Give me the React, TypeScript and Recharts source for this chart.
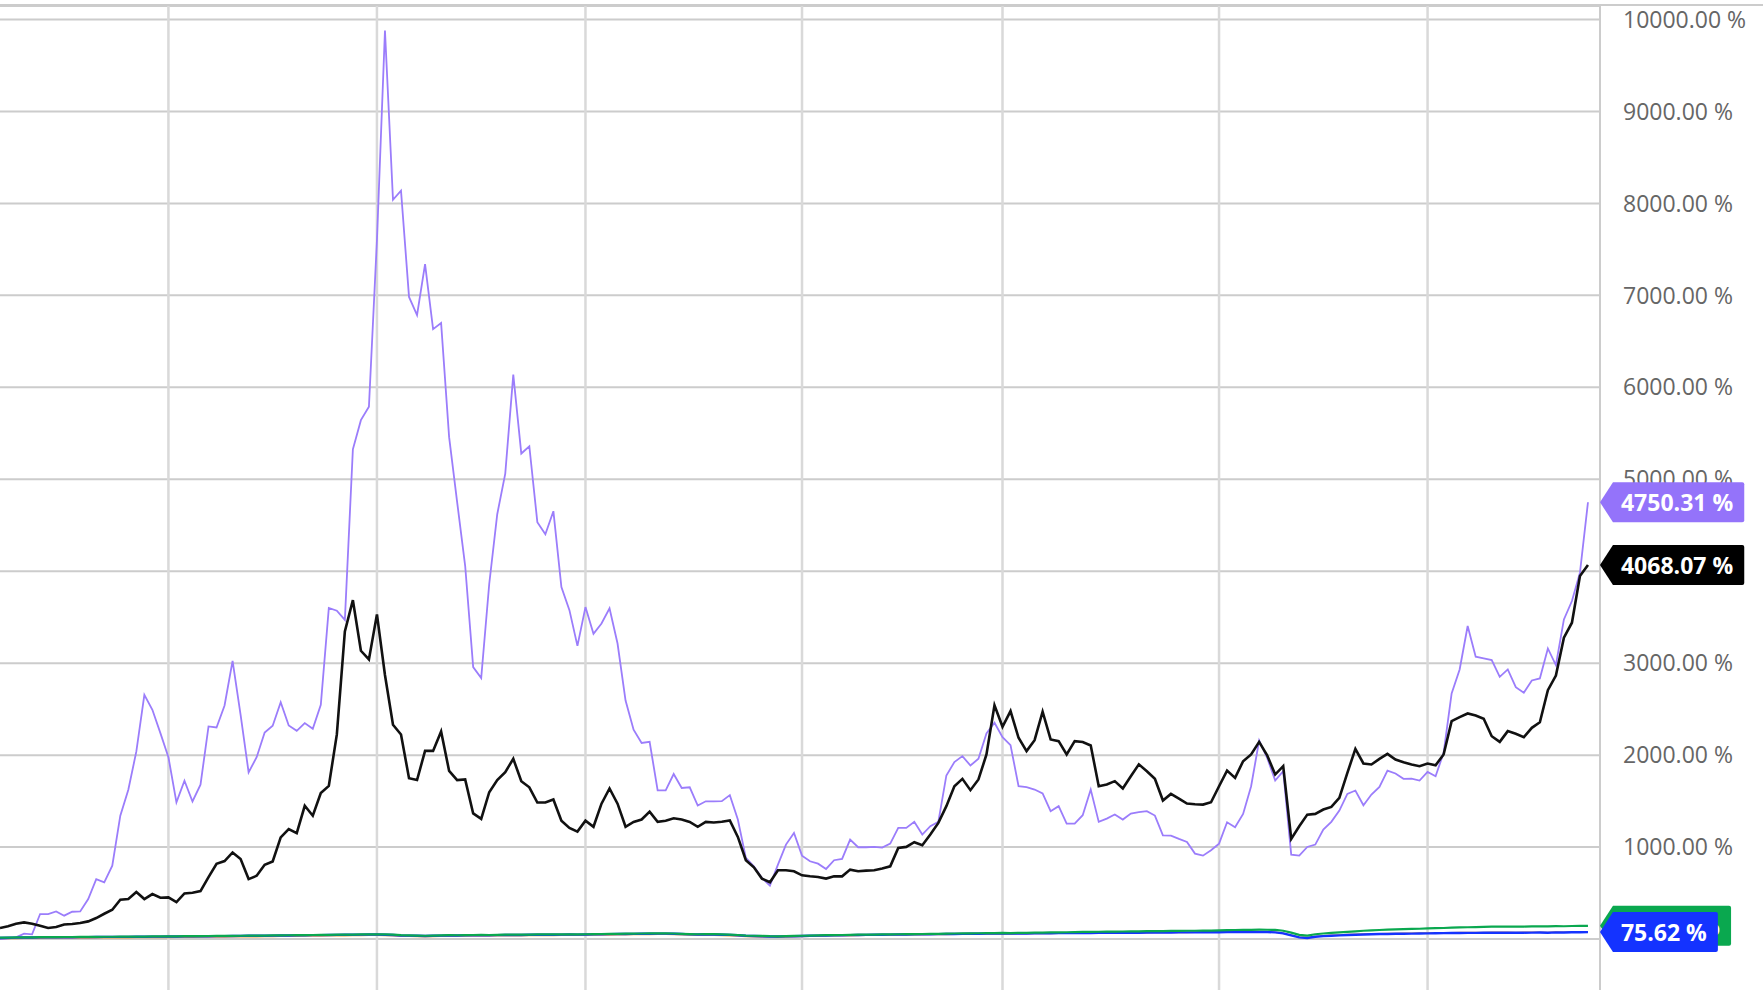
import { LineChart, Line, XAxis, YAxis, CartesianGrid, ReferenceLine } from 'recharts';

// bi-weekly cumulative return, %
const purple = [
  0, 5, 18, 58, 51, 272, 272, 300, 254, 297,
  300, 435, 652, 616, 797, 1341, 1623, 2040, 2656, 2493,
  2239, 1978, 1486, 1721, 1496, 1678, 2312, 2301, 2540, 3025,
  2438, 1812, 1978, 2246, 2319, 2576, 2322, 2264, 2348, 2286,
  2547, 3600, 3570, 3470, 5326, 5643, 5788, 7600, 9880, 8039,
  8138, 6983, 6785, 7339, 6633, 6699, 5458, 4752, 4059, 2957,
  2838, 3861, 4620, 5062, 6138, 5280, 5359, 4534, 4402, 4653,
  3828, 3577, 3188, 3610, 3320, 3432, 3597, 3214, 2594, 2277,
  2132, 2145, 1617, 1617, 1795, 1643, 1650, 1452, 1498, 1498,
  1500, 1565, 1299, 882, 791, 664, 581, 809, 1027, 1154,
  907, 846, 820, 762, 857, 871, 1082, 998, 998, 1002,
  995, 1038, 1209, 1209, 1274, 1136, 1227, 1274, 1779, 1924,
  1989, 1887, 1960, 2236, 2352, 2196, 2109, 1662, 1652, 1626,
  1583, 1390, 1445, 1256, 1256, 1347, 1626, 1274, 1310, 1354,
  1299, 1365, 1380, 1390, 1343, 1128, 1125, 1089, 1056, 929,
  907, 965, 1038, 1270, 1216, 1361, 1662, 2159, 1970, 1724,
  1825, 918, 907, 1001, 1027, 1190, 1274, 1397, 1578, 1615,
  1455, 1571, 1655, 1832, 1800, 1742, 1745, 1724, 1818, 1771,
  2025, 2671, 2932, 3404, 3070, 3052, 3033, 2852, 2932, 2739,
  2678, 2812, 2834, 3160, 2979, 3476, 3676, 3984, 4750.31,
];

const black = [
  120, 138, 167, 181, 167, 145, 120, 130, 159, 163,
  174, 192, 228, 275, 319, 428, 435, 511, 435, 489,
  449, 453, 402, 496, 504, 522, 674, 819, 848, 942,
  870, 652, 688, 808, 844, 1105, 1196, 1152, 1449, 1341,
  1587, 1665, 2225, 3345, 3685, 3135, 3040, 3531, 2871, 2330,
  2224, 1749, 1729, 2046, 2046, 2257, 1828, 1729, 1736, 1366,
  1307, 1597, 1729, 1815, 1960, 1716, 1650, 1485, 1485, 1518,
  1287, 1208, 1168, 1287, 1221, 1472, 1637, 1472, 1221, 1274,
  1300, 1386, 1274, 1287, 1313, 1300, 1274, 1221, 1274, 1267,
  1275, 1289, 1111, 857, 780, 657, 617, 748, 748, 737,
  693, 682, 675, 657, 682, 682, 755, 737, 744, 748,
  766, 791, 991, 1002, 1053, 1020, 1136, 1263, 1445, 1662,
  1742, 1619, 1735, 2007, 2541, 2309, 2479, 2189, 2044, 2163,
  2472, 2171, 2152, 2007, 2152, 2142, 2105, 1662, 1681, 1717,
  1637, 1771, 1900, 1825, 1742, 1506, 1578, 1528, 1473, 1466,
  1462, 1488, 1662, 1832, 1753, 1934, 2007, 2144, 1999, 1789,
  1880, 1089, 1226, 1353, 1361, 1408, 1437, 1535, 1807, 2068,
  1909, 1898, 1959, 2014, 1952, 1923, 1898, 1880, 1909, 1890,
  2007, 2369, 2413, 2453, 2431, 2395, 2206, 2144, 2261, 2232,
  2195, 2297, 2358, 2707, 2866, 3277, 3440, 3948, 4068.07,
];

const green = [
  15, 16, 18, 18, 19, 20, 20, 21, 22, 22,
  23, 23, 24, 25, 25, 26, 26, 27, 27, 28,
  28, 29, 30, 31, 31, 32, 33, 34, 34, 35,
  36, 37, 37, 38, 39, 40, 41, 42, 43, 44,
  45, 46, 47, 48, 49, 50, 51, 52, 50, 47,
  42, 40, 38, 36, 38, 40, 42, 41, 43, 44,
  45, 44, 46, 47, 48, 47, 49, 50, 51, 50,
  51, 52, 51, 52, 54, 55, 56, 57, 58, 59,
  60, 61, 62, 62, 60, 57, 54, 52, 55, 53,
  50, 48, 44, 38, 36, 34, 31, 30, 32, 34,
  36, 38, 40, 42, 43, 44, 45, 47, 48, 49,
  50, 51, 52, 53, 54, 55, 56, 57, 58, 60,
  61, 62, 63, 64, 65, 66, 65, 67, 68, 69,
  70, 72, 73, 74, 75, 77, 78, 79, 80, 81,
  82, 83, 84, 85, 86, 87, 88, 89, 90, 90,
  91, 92, 94, 96, 98, 99, 100, 102, 101, 99,
  90, 70, 45, 38, 52, 60, 66, 72, 78, 84,
  90, 95, 98, 102, 105, 108, 110, 112, 116, 118,
  120, 124, 126, 128, 130, 132, 134, 136, 135, 134,
  136, 138, 139, 137, 141, 139, 142, 143, 143.86,
];

const blue = [
  12, 14, 15, 16, 17, 18, 18, 19, 20, 20,
  21, 21, 22, 23, 23, 24, 24, 25, 25, 26,
  26, 27, 28, 29, 29, 30, 31, 32, 32, 33,
  34, 35, 35, 36, 37, 38, 39, 40, 41, 42,
  43, 44, 45, 46, 47, 48, 49, 50, 47, 44,
  39, 37, 35, 33, 35, 37, 39, 38, 40, 41,
  42, 41, 43, 44, 45, 44, 46, 47, 48, 47,
  48, 49, 48, 49, 51, 52, 53, 54, 55, 56,
  57, 58, 59, 59, 57, 54, 51, 49, 52, 50,
  47, 45, 41, 35, 33, 31, 28, 27, 29, 31,
  33, 35, 37, 39, 40, 41, 42, 44, 45, 46,
  47, 48, 49, 50, 51, 52, 52, 53, 54, 55,
  56, 57, 58, 59, 60, 60, 59, 60, 61, 62,
  62, 63, 64, 64, 65, 66, 66, 67, 67, 68,
  68, 69, 69, 70, 70, 71, 71, 72, 72, 72,
  73, 73, 74, 75, 76, 76, 77, 78, 76, 73,
  62, 40, 18, 12, 25, 32, 36, 40, 44, 47,
  50, 52, 54, 55, 57, 58, 59, 60, 62, 63,
  64, 65, 66, 67, 67, 68, 69, 70, 69, 68,
  69, 70, 71, 68, 72, 71, 73, 74, 75.62,
];

const orange = [
  5, 6, 7, 8, 8, 9, 10, 10, 11, 11,
  12, 12, 13, 14, 14, 15, 15, 16, 16, 17,
  17, 18, 19, 20, 20, 21, 22, 23, 23, 24,
  25, 26, 26, 27, 28, 29, 30, 31, 32, 33,
  34, 35, 36, 37, 38, 39, 40, 41, 38, 35,
  31, 29, 27, 25, 27, 29, 31, 30, 32, 33,
  34, 33, 35, 36, 37, 36, 38, 39, 40, 39,
  40, 41, 40, 41, 43, 44, 45, 46, 47, 48,
  49, 50, 51, 51, 49, 46, 43, 41, 44, 42,
  39, 37, 33, 27, 25, 23, 21, 20, 22, 24,
  27, 29, 31, 33, 35, 36, 37, 39, 40, 41,
  42, 43, 44, 45, 46, 47, 48, 49, 50, 51,
  52, 53, 54, 55, 56, 57, 56, 57, 58, 59,
  60, 61, 62, 62, 63, 64, 64, 65, 66, 66,
  67, 68, 68, 69, 70, 70, 71, 72, 72, 73,
  74, 74, 75, 76, 77, 78, 79, 80, 78, 75,
  64, 42, 22, 16, 28, 35, 40, 44, 48, 51,
  54, 56, 58, 60, 61, 62, 64, 65, 66, 67,
  68, 69, 70, 71, 71, 72, 73, 74, 73, 72,
  73, 74, 75, 72, 76, 75, 77, 78, 80,
];

// index of the first point of each year (vertical grid)
const yearStarts = [21, 47, 73, 100, 125, 152, 178];
const yTicks = [0, 1000, 2000, 3000, 4000, 5000, 6000, 7000, 8000, 9000, 10000];

const data = purple.map((v, i) => ({
  i,
  purple: v,
  black: black[i],
  green: green[i],
  blue: blue[i],
  orange: orange[i],
}));

const LAST = data.length - 1;
const FONT = '"Open Sans", sans-serif';

const fmt = (v: number) => `${v.toFixed(2)} %`;

// rough text width of the bold value tag
const tagTextWidth = (s: string) =>
  s.split('').reduce((w, c) => {
    if (c >= '0' && c <= '9') return w + 13.2;
    if (c === '.') return w + 6.6;
    if (c === ' ') return w + 6;
    if (c === '%') return w + 20.5;
    return w + 12;
  }, 0);

const makeTag = (color: string) => (props: any) => {
  if (props.index !== LAST) return null;
  const px = props.x ?? props.viewBox?.x;
  const py = props.y ?? props.viewBox?.y;
  if (px == null || py == null) return null;
  const text = fmt(Number(props.value));
  const tip = px + 12;
  const left = tip + 13;
  const right = tip + 21 + tagTextWidth(text) + 11;
  const top = py - 20;
  const bottom = py + 20;
  const d = `M${tip},${py} L${left},${top} L${right - 2},${top} Q${right},${top} ${right},${top + 2} L${right},${bottom - 2} Q${right},${bottom} ${right - 2},${bottom} L${left},${bottom} Z`;
  return (
    <g>
      <path d={d} fill={color} />
      <text
        x={tip + 21}
        y={py}
        dominantBaseline="central"
        fill="#fff"
        fontSize={23}
        fontWeight={700}
        fontFamily={FONT}
      >
        {text}
      </text>
    </g>
  );
};

export default function App() {
  return (
    <div style={{ width: 1763, height: 990, overflow: 'hidden', background: '#fff', paddingTop: 4, boxSizing: 'border-box' }}>
      <style>{'body{margin:0}'}</style>
      <div style={{ borderTop: '2px solid #cccccc' }}>
        <LineChart width={1763} height={994} data={data} margin={{ top: 0, right: 0, bottom: 0, left: 0 }}>
          <CartesianGrid vertical={false} stroke="#cccccc" strokeWidth={2} />
          {yearStarts.map((x) => (
            <ReferenceLine key={x} x={x} stroke="#d9d9d9" strokeWidth={2.5} />
          ))}
          <XAxis dataKey="i" type="number" domain={[0, 199.5]} hide />
          <YAxis
            orientation="right"
            width={163}
            domain={[-663, 10147]}
            ticks={yTicks}
            tickFormatter={fmt}
            axisLine={{ stroke: '#cccccc', strokeWidth: 2 }}
            tickLine={false}
            tickMargin={17}
            tick={{ fill: '#666666', fontSize: 23, fontFamily: FONT }}
          />
          <Line type="linear" dataKey="purple" stroke="#9b7dfb" strokeWidth={1.8} dot={false} isAnimationActive={false} label={makeTag('#9473fa')} />
          <Line type="linear" dataKey="black" stroke="#111111" strokeWidth={2.6} dot={false} isAnimationActive={false} label={makeTag('#000000')} />
          <Line type="linear" dataKey="orange" stroke="#f39c3a" strokeWidth={1.5} dot={false} isAnimationActive={false} />
          <Line type="linear" dataKey="blue" stroke="#1433ff" strokeWidth={2.4} dot={false} isAnimationActive={false} />
          <Line type="linear" dataKey="green" stroke="#0aa84f" strokeWidth={2.2} dot={false} isAnimationActive={false} label={makeTag('#0aa84f')} />
          {/* tag only, so the blue tag sits over the green one */}
          <Line type="linear" dataKey="blue" stroke="none" dot={false} activeDot={false} legendType="none" isAnimationActive={false} label={makeTag('#1433ff')} />
        </LineChart>
      </div>
    </div>
  );
}
